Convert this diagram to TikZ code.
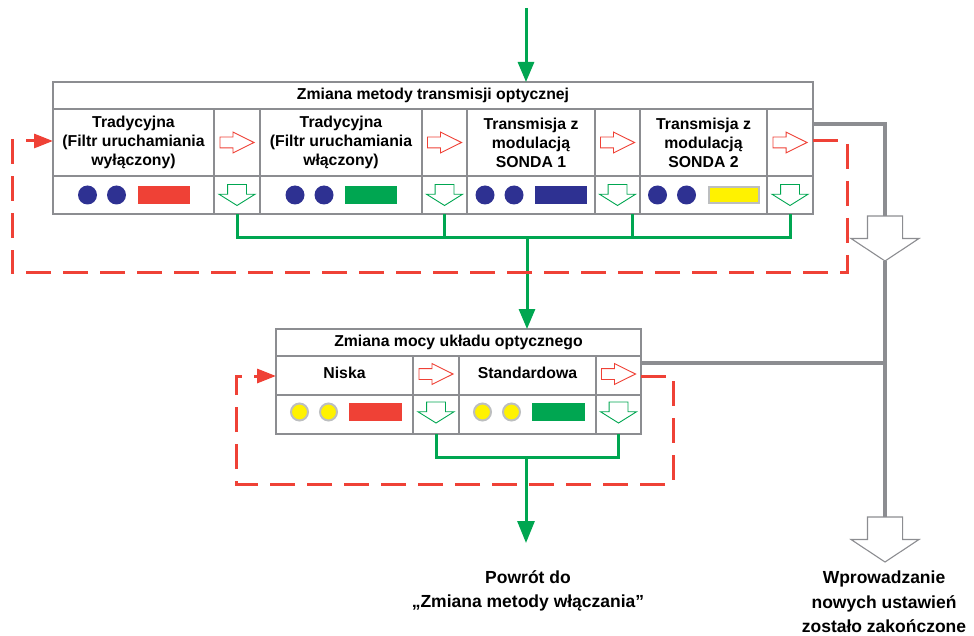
\documentclass[tikz,border=0pt]{standalone}
\usepackage{fontspec}
\setmainfont{Liberation Sans}
\usetikzlibrary{arrows.meta,shapes.arrows,positioning,calc}

\definecolor{redc}{RGB}{239,65,54}
\definecolor{greenc}{RGB}{0,166,81}
\definecolor{bluec}{RGB}{46,49,146}
\definecolor{yellowc}{RGB}{255,242,0}
\definecolor{linegray}{RGB}{140,141,145}
\definecolor{ringgray}{RGB}{188,190,192}

\tikzset{
  cell/.style={draw=linegray, line width=1.2pt, inner sep=0pt, outer sep=0pt, anchor=north west,
    align=center, font=\fontsize{15.8}{19}\selectfont\bfseries},
  frame/.style={draw=linegray, line width=2pt},
  harrow/.style={single arrow, draw, fill=white, inner xsep=0pt, outer sep=0pt, line width=0.9pt, anchor=tail},
  redarr/.style={harrow, draw=redc, minimum height=34pt, inner ysep=5pt,
    single arrow head extend=5pt, single arrow tip angle=53},
  grnarr/.style={harrow, draw=greenc, rotate=-90, minimum height=21pt, inner ysep=9pt,
    single arrow head extend=8.5pt, single arrow tip angle=116},
  grayarr/.style={harrow, draw=linegray, rotate=-90, line width=1.1pt, minimum height=45pt, inner ysep=17pt,
    single arrow head extend=16.5pt, single arrow tip angle=113},
  greenline/.style={draw=greenc, line width=3pt},
  grayline/.style={draw=linegray, line width=3.4pt},
  redloop/.style={draw=redc, line width=3pt, dash pattern=on 25pt off 12pt, -{Triangle[length=19pt,width=14pt]}},
  caption/.style={align=center, inner sep=0pt, font=\fontsize{17.5}{24.5}\selectfont\bfseries}
}

\begin{document}
\begin{tikzpicture}[x=1pt, y=-1pt]
  \useasboundingbox (0,0) rectangle (974,636);

  % Optical transmission method box
  \node[cell, minimum width=760pt, minimum height=27pt] (thead) at (53,82) {Zmiana metody transmisji optycznej};
  \node[cell, minimum width=161pt, minimum height=67pt] (tt1) at (thead.south west) {Tradycyjna\\(Filtr uruchamiania\\wyłączony)};
  \node[cell, minimum width=46pt, minimum height=67pt] (ta1) at (tt1.north east) {};
  \node[cell, minimum width=162pt, minimum height=67pt] (tt2) at (ta1.north east) {Tradycyjna\\(Filtr uruchamiania\\włączony)};
  \node[cell, minimum width=45pt, minimum height=67pt] (ta2) at (tt2.north east) {};
  \node[cell, minimum width=128pt, minimum height=67pt] (tt3) at (ta2.north east) {Transmisja z\\modulacją\\SONDA 1};
  \node[cell, minimum width=45pt, minimum height=67pt] (ta3) at (tt3.north east) {};
  \node[cell, minimum width=127pt, minimum height=67pt] (tt4) at (ta3.north east) {Transmisja z\\modulacją\\SONDA 2};
  \node[cell, minimum width=46pt, minimum height=67pt] (ta4) at (tt4.north east) {};
  \node[cell, minimum width=161pt, minimum height=38pt] (ti1) at (tt1.south west) {};
  \node[cell, minimum width=46pt, minimum height=38pt] (tg1) at (ta1.south west) {};
  \node[cell, minimum width=162pt, minimum height=38pt] (ti2) at (tt2.south west) {};
  \node[cell, minimum width=45pt, minimum height=38pt] (tg2) at (ta2.south west) {};
  \node[cell, minimum width=128pt, minimum height=38pt] (ti3) at (tt3.south west) {};
  \node[cell, minimum width=45pt, minimum height=38pt] (tg3) at (ta3.south west) {};
  \node[cell, minimum width=127pt, minimum height=38pt] (ti4) at (tt4.south west) {};
  \node[cell, minimum width=46pt, minimum height=38pt] (tg4) at (ta4.south west) {};
  \draw[frame] (thead.north west) rectangle (tg4.south east);

  % lamps
  \foreach \n/\col in {ti1/redc, ti2/greenc, ti3/bluec, ti4/yellowc} {
    \fill[bluec] ([xshift=-46pt]\n.center) circle[radius=9.5pt];
    \fill[bluec] ([xshift=-17pt]\n.center) circle[radius=9.5pt];
    \fill[\col] ([xshift=4pt,yshift=9pt]\n.center) rectangle ++(52,18);
  }
  \draw[ringgray, line width=2pt] ([xshift=5pt,yshift=8pt]ti4.center) rectangle ++(50,16);

  \foreach \n in {1,2,3,4} {
    \node[redarr] (tr\n) at ([xshift=-17pt]ta\n.center) {};
    \node[grnarr] (td\n) at ([yshift=10.5pt]tg\n.center) {};
  }

  % Optical power box
  \node[cell, minimum width=365pt, minimum height=27pt] (mhead) at (276,329) {Zmiana mocy układu optycznego};
  \node[cell, minimum width=137pt, minimum height=39pt] (mt1) at (mhead.south west) {\raisebox{6pt}{Niska}};
  \node[cell, minimum width=46pt, minimum height=39pt] (ma1) at (mt1.north east) {};
  \node[cell, minimum width=137pt, minimum height=39pt] (mt2) at (ma1.north east) {\raisebox{6pt}{Standardowa}};
  \node[cell, minimum width=45pt, minimum height=39pt] (ma2) at (mt2.north east) {};
  \node[cell, minimum width=137pt, minimum height=39pt] (mi1) at (mt1.south west) {};
  \node[cell, minimum width=46pt, minimum height=39pt] (mg1) at (ma1.south west) {};
  \node[cell, minimum width=137pt, minimum height=39pt] (mi2) at (mt2.south west) {};
  \node[cell, minimum width=45pt, minimum height=39pt] (mg2) at (ma2.south west) {};
  \draw[frame] (mhead.north west) rectangle (mg2.south east);

  \foreach \n/\col in {mi1/redc, mi2/greenc} {
    \filldraw[fill=yellowc, draw=ringgray, line width=2pt] ([xshift=-45pt,yshift=2.5pt]\n.center) circle[radius=8.5pt];
    \filldraw[fill=yellowc, draw=ringgray, line width=2pt] ([xshift=-16pt,yshift=2.5pt]\n.center) circle[radius=8.5pt];
    \fill[\col] ([xshift=4pt,yshift=11.5pt]\n.center) rectangle ++(53,18);
  }
  \foreach \n in {1,2} {
    \node[redarr] (mr\n) at ([xshift=-17pt,yshift=1.5pt]ma\n.center) {};
    \node[grnarr] (md\n) at ([yshift=12.5pt]mg\n.center) {};
  }

  % Flow in and out
  \coordinate (start) at (526,8);
  \coordinate (tbus) at (527,238);
  \coordinate (mbus) at (526,457);
  \coordinate (back) at (526,543);
  \draw[greenline, -{Triangle[length=20pt,width=16pt]}] (start) -- (start |- thead.north);
  \draw[greenline] (tg1.south) |- (tg4.south |- tbus) -- (tg4.south);
  \draw[greenline] (tg2.south) -- (tg2.south |- tbus);
  \draw[greenline] ([xshift=15pt]tg3.south) -- ([xshift=15pt]tg3.south |- tbus);
  \draw[greenline, -{Triangle[length=20pt,width=16pt]}] (tbus) -- (tbus |- mhead.north);
  \draw[greenline] (mg1.south) |- (mg2.south |- mbus) -- (mg2.south);
  \draw[greenline, -{Triangle[length=22pt,width=17pt]}] (mbus) -- (back);

  % Loops back
  \draw[redloop] (ta4.east |- 0,141) -| (847,273) -| (12,141) -- (tt1.west |- 0,141);
  \draw[redloop] (ma2.east |- 0,376) -| (673,484) -| (236,376) -- (mt1.west |- 0,376);

  % Exit
  \node[grayarr] (gout1) at (885,216) {};
  \node[grayarr] (gout2) at (885,517) {};
  \draw[grayline] (ta4.east |- 0,124) -| (gout1.tail);
  \draw[grayline] (gout1.tip) -- (gout2.tail);
  \draw[grayline] (ma2.east |- 0,363) -- (gout1.tip |- 0,363);

  \node[caption] (backtxt) at (528,591) {Powrót do\\„Zmiana metody włączania”};
  \node[caption] (donetxt) at (884,602) {Wprowadzanie\\nowych ustawień\\zostało zakończone};
\end{tikzpicture}
\end{document}
